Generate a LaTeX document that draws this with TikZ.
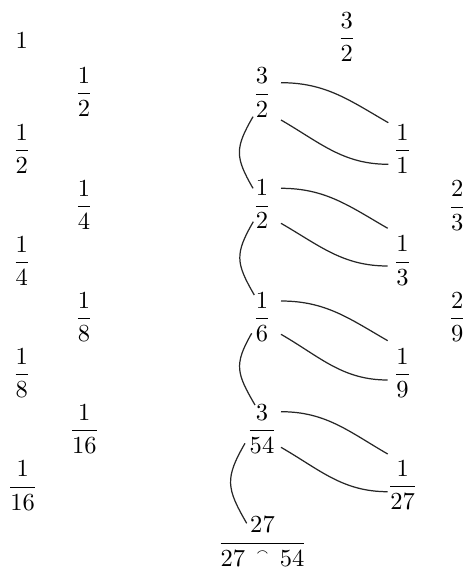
\documentclass[tikz,border=0pt]{standalone}
\usepackage{amsmath,amssymb}
\usetikzlibrary{calc}
\newcommand\tinyfrown{\mathrel{\makebox[8.6pt]{\raisebox{4.2pt}{$\scriptscriptstyle\smallfrown$}}}}
\begin{document}
\begin{tikzpicture}[x=0.408pt,y=0.408pt,
  fr/.style={inner sep=0pt,outer sep=0pt},
  link/.style={line width=0.5pt,draw=black!85}]
\useasboundingbox (0,0) rectangle (468,-571);
% left column
\node[fr] (a0) at (21.7,-40.8) {$1$};
\node[fr] (a1) at (21.7,-149.0) {$\dfrac{1}{2}$};
\node[fr] (a2) at (21.7,-261.0) {$\dfrac{1}{4}$};
\node[fr] (a3) at (21.7,-373.3) {$\dfrac{1}{8}$};
\node[fr] (a4) at (22.7,-485.6) {$\dfrac{1}{16}$};
% second column
\node[fr] (b1) at (84,-92.3) {$\dfrac{1}{2}$};
\node[fr] (b2) at (84,-205.0) {$\dfrac{1}{4}$};
\node[fr] (b3) at (84,-317.3) {$\dfrac{1}{8}$};
\node[fr] (b4) at (84.3,-429.3) {$\dfrac{1}{16}$};
% top
\node[fr] (t) at (346.7,-37.3) {$\dfrac{3}{2}$};
% middle column
\node[fr] (m1) at (262,-92.6) {$\dfrac{3}{2}$};
\node[fr] (m2) at (262,-204.4) {$\dfrac{1}{2}$};
\node[fr] (m3) at (262,-317.3) {$\dfrac{1}{6}$};
\node[fr] (m4) at (262,-429.0) {$\dfrac{3}{54}$};
\node[fr] (m5) at (262.5,-541.6) {$\dfrac{27}{27\tinyfrown 54}$};
% right column
\node[fr] (r1) at (402.5,-149.0) {$\dfrac{1}{1}$};
\node[fr] (r2) at (402.5,-260.6) {$\dfrac{1}{3}$};
\node[fr] (r3) at (402.5,-373.3) {$\dfrac{1}{9}$};
\node[fr] (r4) at (402.7,-485.0) {$\dfrac{1}{27}$};
% far right
\node[fr] (f1) at (457.3,-205.6) {$\dfrac{2}{3}$};
\node[fr] (f2) at (457.3,-317.3) {$\dfrac{2}{9}$};
% right curves
\draw[link] ($(m1)+(19,9.9)$) to[out=0,in=150] ($(r1)+(-14.2,26.3)$);
\draw[link] ($(m1)+(19,-27.4)$) to[out=-30,in=180] ($(r1)+(-14.2,-15.3)$);
\draw[link] ($(m2)+(19,16.1)$) to[out=0,in=150] ($(r2)+(-14.8,32.3)$);
\draw[link] ($(m2)+(19,-18.9)$) to[out=-30,in=180] ($(r2)+(-14.8,-5.4)$);
\draw[link] ($(m3)+(19,16.3)$) to[out=0,in=150] ($(r3)+(-14.8,32.6)$);
\draw[link] ($(m3)+(19,-17)$) to[out=-30,in=180] ($(r3)+(-14.8,-6.7)$);
\draw[link] ($(m4)+(19,17.3)$) to[out=0,in=150] ($(r4)+(-15,31)$);
\draw[link] ($(m4)+(19,-18.3)$) to[out=-30,in=180] ($(r4)+(-15,-6.7)$);
% left arcs
\draw[link] ($(m1)+(-9,-24.1)$) to[out=240,in=120,looseness=1.3] ($(m2)+(-9,16.1)$);
\draw[link] ($(m2)+(-8.7,-17.3)$) to[out=240,in=120,looseness=1.3] ($(m3)+(-7.7,22.3)$);
\draw[link] ($(m3)+(-10.3,-16)$) to[out=240,in=120,looseness=1.3] ($(m4)+(-7,24)$);
\draw[link] ($(m4)+(-17,-14.3)$) to[out=240,in=120,looseness=1.3] ($(m5)+(-15.8,18.3)$);
\end{tikzpicture}
\end{document}
